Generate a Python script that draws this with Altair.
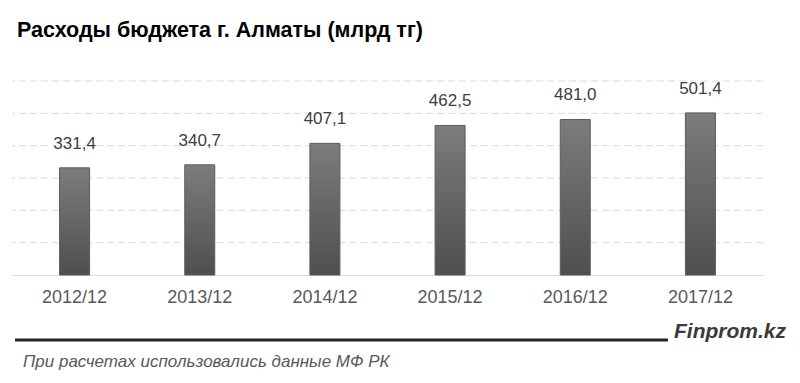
import altair as alt
import pandas as pd

periods = ["2012/12", "2013/12", "2014/12", "2015/12", "2016/12", "2017/12"]
values = [331.4, 340.7, 407.1, 462.5, 481.0, 501.4]
grid_values = [100, 200, 300, 400, 500, 600]

df = pd.DataFrame({"period": periods, "value": values})
grid_df = pd.DataFrame({"g": grid_values})

W, H = 751, 194
PAD_L, PAD_T = 4, 73

x_enc = alt.X(
    "period:N",
    sort=periods,
    scale=alt.Scale(paddingInner=0, paddingOuter=0),
    axis=alt.Axis(
        title=None, labelAngle=0, ticks=False, domainColor="#d9d9d9",
        labelFontSize=18, labelColor="#595959", labelFont="Liberation Sans",
        labelPadding=13, grid=False,
    ),
)
yscale = alt.Scale(domain=[0, 600], nice=False)

grid = alt.Chart(grid_df).mark_rule(color="#d9d9d9", strokeWidth=1, strokeDash=[7, 4]).encode(
    y=alt.Y("g:Q", scale=yscale, axis=None)
)

bars = alt.Chart(df).mark_bar(
    size=30,
    stroke="#5c5c5c",
    strokeWidth=1,
    color=alt.Gradient(
        gradient="linear", x1=0, y1=0, x2=0, y2=1,
        stops=[alt.GradientStop(offset=0, color="#7c7c7c"),
               alt.GradientStop(offset=1, color="#4f4f4f")],
    ),
).encode(x=x_enc, y=alt.Y("value:Q", scale=yscale, axis=None))

labels = alt.Chart(df).transform_calculate(
    lbl="replace(format(datum.value, '.1f'), '.', ',')"
).mark_text(
    fontSize=17, color="#404040", font="Liberation Sans", baseline="alphabetic", dy=-19
).encode(x=alt.X("period:N", sort=periods), y="value:Q", text="lbl:N")

# footer decorations (outside plot area)
rule = alt.Chart(pd.DataFrame({"a": [0]})).mark_rule(color="#262626", strokeWidth=3).encode(
    x=alt.value(3), x2=alt.value(656), y=alt.value(259)
)
brand = alt.Chart(pd.DataFrame({"t": ["Finprom.kz"]})).mark_text(
    fontSize=21, fontWeight="bold", fontStyle="italic", font="Liberation Sans",
    color="#3a3a3a", align="left", baseline="alphabetic"
).encode(x=alt.value(662), y=alt.value(257), text="t:N")
note = alt.Chart(pd.DataFrame({"t": ["При расчетах использовались данные МФ РК"]})).mark_text(
    fontSize=17, fontStyle="italic", font="Liberation Sans",
    color="#595959", align="left", baseline="middle"
).encode(x=alt.value(11), y=alt.value(281), text="t:N")

chart = alt.layer(grid, bars, labels, rule, brand, note).properties(
    width=W, height=H,
    background="white",
    autosize=alt.AutoSizeParams(type="none"),
    padding={"left": PAD_L, "top": PAD_T, "right": 29, "bottom": 100},
    title=alt.TitleParams(
        "Расходы бюджета г. Алматы (млрд тг)", anchor="start", fontSize=21.5,
        fontWeight="bold", font="Liberation Sans", color="#000000", offset=38,
        frame="group", dx=5,
    ),
).configure_view(strokeWidth=0, stroke="transparent")

chart.save("out.html", embed_options={"renderer": "svg", "actions": False})
